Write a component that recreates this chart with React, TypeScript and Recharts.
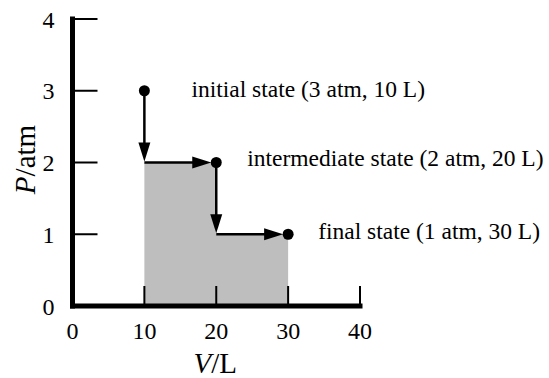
import { Area, ComposedChart, Label, ReferenceLine, Scatter, XAxis, YAxis } from "recharts";

const V_TICKS = [0, 10, 20, 30, 40];
const P_TICKS = [0, 1, 2, 3, 4];
const STATE_V = [10, 20, 30];
const STATE_P = [3, 2, 1];
const STATE_LABELS = [
  "initial state (3 atm, 10 L)",
  "intermediate state (2 atm, 20 L)",
  "final state (1 atm, 30 L)",
];

const FONT = "'Liberation Serif', 'Times New Roman', serif";
const GREY = "#bebebe";

// text placement next to each state dot
const LABEL_NUDGE = [
  { dx: 47, dy: 6 },
  { dx: 31, dy: 3 },
  { dx: 30, dy: 5 },
];

const states = STATE_V.map((v, i) => ({ i, v, p: STATE_P[i], label: STATE_LABELS[i] }));

// work area under the path: pressure drops first, then gas expands
const workArea = states.map((s, i) => ({ v: s.v, p: i < states.length - 1 ? states[i + 1].p : s.p }));

const steps = states.slice(1).map((to, i) => ({ from: states[i], to }));

function arrow(gap: number) {
  return (props: any) => {
    const { x1, y1, x2, y2 } = props;
    const len = Math.hypot(x2 - x1, y2 - y1) || 1;
    const ux = (x2 - x1) / len;
    const uy = (y2 - y1) / len;
    const tx = x2 - ux * gap;
    const ty = y2 - uy * gap;
    const bx = tx - ux * 19;
    const by = ty - uy * 19;
    return (
      <g>
        <line x1={x1} y1={y1} x2={bx + ux} y2={by + uy} stroke="#000" strokeWidth={2.5} />
        <polygon
          points={`${tx},${ty} ${bx - uy * 6},${by + ux * 6} ${bx + uy * 6},${by - ux * 6}`}
          fill="#000"
        />
      </g>
    );
  };
}

function StateDot(props: any) {
  const { cx, cy, payload } = props;
  const n = LABEL_NUDGE[payload.i];
  return (
    <g>
      <circle cx={cx} cy={cy} r={5.5} fill="#000" />
      <text x={cx + n.dx} y={cy + n.dy} fontFamily={FONT} fontSize={23.5} fill="#000">
        {payload.label}
      </text>
    </g>
  );
}

export default function App() {
  const tick = { fontFamily: FONT, fontSize: 24, fill: "#000" };
  const axisLine = { stroke: "#000", strokeWidth: 5, strokeLinecap: "square" as const };
  return (
    <div
      style={{
        position: "absolute",
        left: 0,
        top: 0,
        width: 549,
        height: 378,
        overflow: "hidden",
        background: "#fff",
      }}
    >
      <ComposedChart
        width={549}
        height={378}
        data={workArea}
        margin={{ top: 19, right: 189, bottom: 22, left: 12.5 }}
      >
        <Area
          type="stepAfter"
          dataKey="p"
          stroke="none"
          fill={GREY}
          fillOpacity={1}
          isAnimationActive={false}
        />
        <XAxis
          dataKey="v"
          type="number"
          domain={[0, 40]}
          ticks={V_TICKS}
          height={50}
          tickSize={-20}
          tickMargin={36}
          tick={tick}
          tickLine={{ stroke: "#000", strokeWidth: 2 }}
          axisLine={axisLine}
        >
          <Label
            content={({ viewBox }: any) => (
              <text
                x={viewBox.x + viewBox.width / 2 - 1}
                y={373}
                textAnchor="middle"
                fontFamily={FONT}
                fontSize={29}
                fill="#000"
              >
                <tspan fontStyle="italic">V</tspan>/L
              </text>
            )}
          />
        </XAxis>
        <YAxis
          type="number"
          domain={[0, 4]}
          ticks={P_TICKS}
          width={60}
          tickSize={-25}
          tickMargin={43}
          tick={tick}
          tickLine={{ stroke: "#000", strokeWidth: 2 }}
          axisLine={axisLine}
        >
          <Label
            content={({ viewBox }: any) => {
              const cx = 35;
              const cy = viewBox.y + viewBox.height / 2 - 3;
              return (
                <text
                  x={cx}
                  y={cy}
                  transform={`rotate(-90, ${cx}, ${cy})`}
                  textAnchor="middle"
                  fontFamily={FONT}
                  fontSize={29}
                  fill="#000"
                >
                  <tspan fontStyle="italic">P</tspan>/atm
                </text>
              );
            }}
          />
        </YAxis>
        {steps.map((s, i) => (
          <ReferenceLine
            key={`down-${i}`}
            segment={[
              { x: s.from.v, y: s.from.p },
              { x: s.from.v, y: s.to.p },
            ]}
            shape={arrow(1)}
          />
        ))}
        {steps.map((s, i) => (
          <ReferenceLine
            key={`right-${i}`}
            segment={[
              { x: s.from.v, y: s.to.p },
              { x: s.to.v, y: s.to.p },
            ]}
            shape={arrow(5)}
          />
        ))}
        <Scatter data={states} dataKey="p" shape={StateDot} isAnimationActive={false} />
      </ComposedChart>
    </div>
  );
}
